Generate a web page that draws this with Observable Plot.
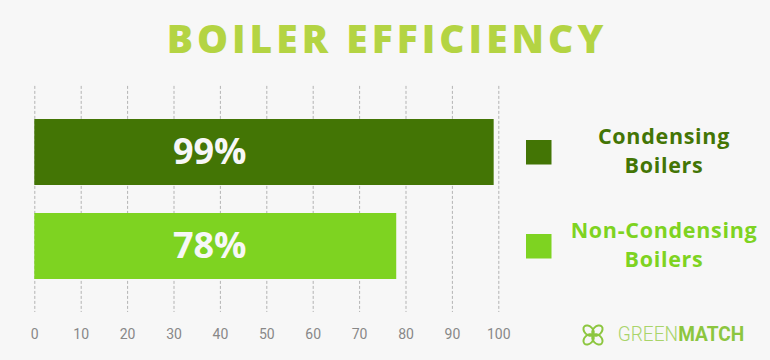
<!DOCTYPE html>
<html>
<head>
<meta charset="utf-8">
<script src="https://cdn.jsdelivr.net/npm/d3@7"></script>
<script src="https://cdn.jsdelivr.net/npm/@observablehq/plot@0.6"></script>
<style>
  html, body { margin: 0; padding: 0; background: #f7f7f7; }
  #wrap { position: relative; width: 770px; height: 360px; overflow: hidden; background: #f7f7f7; }
  #wrap > svg.overlay { position: absolute; left: 0; top: 0; pointer-events: none; }
</style>
</head>
<body>
<div id="wrap"></div>
<script>
const title = "BOILER EFFICIENCY";
const categories = ["Condensing Boilers", "Non-Condensing Boilers"];
const legendLines = [["Condensing", "Boilers"], ["Non-Condensing", "Boilers"]];
const values = [99, 78];
const colors = ["#437505", "#7ed321"];
const xTicks = [0, 10, 20, 30, 40, 50, 60, 70, 80, 90, 100];

const data = categories.map((name, i) => ({name, value: values[i]}));

const W = 770, H = 360;
const chart = Plot.plot({
  width: W,
  height: H,
  marginLeft: 34.3,
  marginRight: 271.7,
  marginTop: 90.4,
  marginBottom: 52.7,
  style: {background: "#f7f7f7", fontFamily: "Roboto, sans-serif"},
  x: {domain: [0, 100], axis: null, label: null},
  y: {domain: categories, paddingInner: 0.297, paddingOuter: 0.3, axis: null},
  color: {domain: categories, range: colors},
  marks: [
    Plot.ruleX(xTicks, {stroke: "#b3b3b3", strokeWidth: 1, strokeDasharray: "3,2", insetTop: -4.5, insetBottom: -4.7}),
    Plot.barX(data, {x: "value", y: "name", fill: "name"}),
    Plot.text(data, {
      y: "name", text: d => d.value + "%", frameAnchor: "left", textAnchor: "end", dx: 211.7,
      fill: "#f7f7f7", fontSize: 36, fontWeight: 700, fontFamily: "Open Sans, sans-serif",
      letterSpacing: 2.5
    }),
    Plot.axisX(xTicks, {anchor: "bottom", label: null, tickSize: 0, tickPadding: 21, fontSize: 14, fill: "#888", tickFormat: d => String(d)})
  ]
});
document.getElementById("wrap").appendChild(chart);

// overlay: title, legend, logo
const ns = "http://www.w3.org/2000/svg";
const ov = d3.select("#wrap").append("svg").attr("class", "overlay")
  .attr("width", W).attr("height", H).attr("xmlns", ns);

ov.append("text")
  .attr("x", 387).attr("y", 53.3)
  .attr("text-anchor", "middle")
  .attr("font-family", "Open Sans, sans-serif")
  .attr("font-weight", 800)
  .attr("font-size", 39)
  .attr("letter-spacing", 4)
  .attr("fill", "#b4d443")
  .text(title);

const legY = [140, 234];
const textBase = [144, 238];
categories.forEach((c, i) => {
  ov.append("rect").attr("x", 526).attr("y", legY[i]).attr("width", 25.5).attr("height", 24.5).attr("fill", colors[i]);
  legendLines[i].forEach((line, j) => {
    ov.append("text")
      .attr("x", 664).attr("y", textBase[i] + j * 29)
      .attr("text-anchor", "middle")
      .attr("font-family", "Open Sans, sans-serif")
      .attr("font-weight", 700)
      .attr("font-size", 21.5)
      .attr("letter-spacing", 0.7)
      .attr("fill", colors[i])
      .text(line);
  });
});

// GreenMatch logo
const logo = ov.append("g").attr("transform", "translate(593,335)");
[45, 135, 225, 315].forEach(a => {
  logo.append("ellipse")
    .attr("cx", 6.2).attr("cy", 0).attr("rx", 6).attr("ry", 4.2)
    .attr("transform", `rotate(${a})`)
    .attr("fill", "none").attr("stroke", "#8cc63f").attr("stroke-width", 2);
});
const brand = ov.append("text").attr("x", 617.7).attr("y", 341)
  .attr("font-family", "Roboto, sans-serif").attr("font-size", 20)
  .attr("textLength", 126.5).attr("lengthAdjust", "spacingAndGlyphs");
brand.append("tspan").attr("font-weight", 300).attr("fill", "#a9d46a").text("GREEN");
brand.append("tspan").attr("font-weight", 700).attr("fill", "#8cc63f").text("MATCH");
</script>
</body>
</html>
